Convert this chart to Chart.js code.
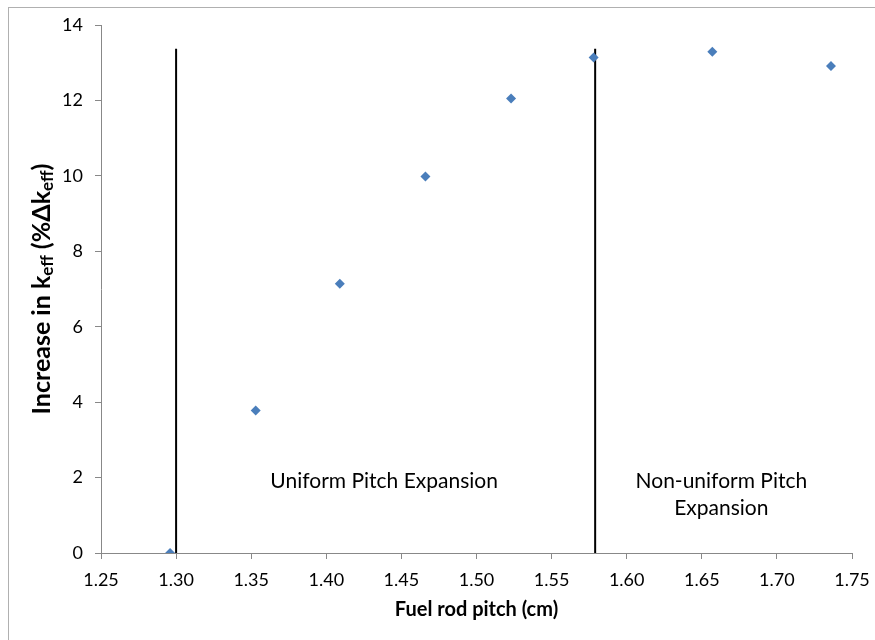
<!DOCTYPE html>
<html>
<head>
<meta charset="utf-8">
<script src="https://cdn.jsdelivr.net/npm/chart.js@4.4.1/dist/chart.umd.min.js"></script>
<style>
  html, body { margin: 0; padding: 0; background: #fff; }
  #wrap { position: relative; width: 875px; height: 640px; }
  #frame { position: absolute; left: 8px; top: 7px; width: 900px; height: 700px;
           border-left: 1px solid #b0b0b0; border-top: 1px solid #b0b0b0; }
</style>
</head>
<body>
<div id="wrap">
  <div id="frame"></div>
  <canvas id="chart" width="875" height="640"></canvas>
</div>
<script>
// fuel rod pitch (cm) and the k-eff increase computed for it
const pitch = [1.296, 1.353, 1.409, 1.466, 1.523, 1.578, 1.657, 1.736];
const keffIncrease = [0, 3.78, 7.14, 9.98, 12.05, 13.14, 13.29, 12.91];

// boundaries between the expansion regimes
const boundaryPitch = [1.30, 1.579];
const boundaryTop = 13.37;

const yTicks = [0, 2, 4, 6, 8, 10, 12, 14];
const xTitle = 'Fuel rod pitch (cm)';

// region labels, placed in data coordinates
const regionLabels = [
  { lines: ['Uniform Pitch Expansion'], x: 1.4385, y: 1.9 },
  { lines: ['Non-uniform Pitch', 'Expansion'], x: 1.663, y: 1.9 },
];

const FONT = 'Lato, "Open Sans", sans-serif';

const boundaryDatasets = boundaryPitch.map((p) => ({
  data: [{ x: p, y: 0 }, { x: p, y: boundaryTop }],
  showLine: true,
  borderColor: '#000',
  borderWidth: 2,
  pointRadius: 0,
}));

// y axis title with subscripts, drawn rotated
const yTitlePlugin = {
  id: 'yTitle',
  afterDraw(chart) {
    const { ctx, chartArea } = chart;
    const parts = [
      ['Increase in k', false],
      ['eff', true],
      [' (%Δk', false],
      ['eff', true],
      [')', false],
    ];
    const big = 'bold 25px ' + FONT;
    const small = 'bold 17px ' + FONT;
    ctx.save();
    let total = 0;
    for (const [t, sub] of parts) {
      ctx.font = sub ? small : big;
      total += ctx.measureText(t).width;
    }
    ctx.translate(42, (chartArea.top + chartArea.bottom) / 2);
    ctx.rotate(-Math.PI / 2);
    ctx.fillStyle = '#000';
    ctx.textBaseline = 'middle';
    let x = -total / 2;
    for (const [t, sub] of parts) {
      ctx.font = sub ? small : big;
      ctx.fillText(t, x, sub ? 6 : 0);
      x += ctx.measureText(t).width;
    }
    ctx.restore();
  },
};

const regionLabelPlugin = {
  id: 'regionLabels',
  afterDatasetsDraw(chart) {
    const { ctx, scales } = chart;
    ctx.save();
    ctx.font = '21px ' + FONT;
    ctx.fillStyle = '#000';
    ctx.textAlign = 'center';
    ctx.textBaseline = 'middle';
    for (const label of regionLabels) {
      const px = scales.x.getPixelForValue(label.x);
      const py = scales.y.getPixelForValue(label.y);
      label.lines.forEach((line, i) => ctx.fillText(line, px, py + i * 27));
    }
    ctx.restore();
  },
};

new Chart(document.getElementById('chart'), {
  type: 'scatter',
  data: {
    datasets: [
      {
        data: pitch.map((p, i) => ({ x: p, y: keffIncrease[i] })),
        pointStyle: 'rectRot',
        pointRadius: 5,
        backgroundColor: '#4a7ebb',
        borderColor: '#4a7ebb',
        borderWidth: 0,
      },
      ...boundaryDatasets,
    ],
  },
  options: {
    responsive: false,
    animation: false,
    layout: { padding: { top: 25, right: 23, left: 0, bottom: 14 } },
    plugins: {
      legend: { display: false },
      tooltip: { enabled: false },
    },
    scales: {
      x: {
        type: 'linear',
        min: 1.25,
        max: 1.75,
        afterBuildTicks(scale) {
          const t = [];
          for (let i = 0; i <= 10; i++) t.push({ value: 1.25 + i * 0.05 });
          scale.ticks = t;
        },
        afterFit(scale) {
          scale.height = 73;
          scale.paddingLeft = 0;
          scale.paddingRight = 0;
        },
        grid: { drawOnChartArea: false, color: '#888', tickLength: 6 },
        border: { color: '#888' },
        ticks: {
          color: '#000',
          font: { family: FONT, size: 18 },
          padding: 10,
          maxRotation: 0,
          callback: (v) => Number(v).toFixed(2),
        },
        title: {
          display: true,
          text: xTitle,
          color: '#000',
          font: { family: FONT, size: 20, weight: 'bold' },
          padding: { top: 6 },
        },
      },
      y: {
        min: 0,
        max: 14,
        afterBuildTicks(scale) {
          scale.ticks = yTicks.map((v) => ({ value: v }));
        },
        afterFit(scale) { scale.width = 101; },
        grid: { drawOnChartArea: false, color: '#888', tickLength: 6 },
        border: { color: '#888' },
        ticks: {
          color: '#000',
          font: { family: FONT, size: 18 },
          padding: 12,
        },
      },
    },
  },
  plugins: [yTitlePlugin, regionLabelPlugin],
});
</script>
</body>
</html>
